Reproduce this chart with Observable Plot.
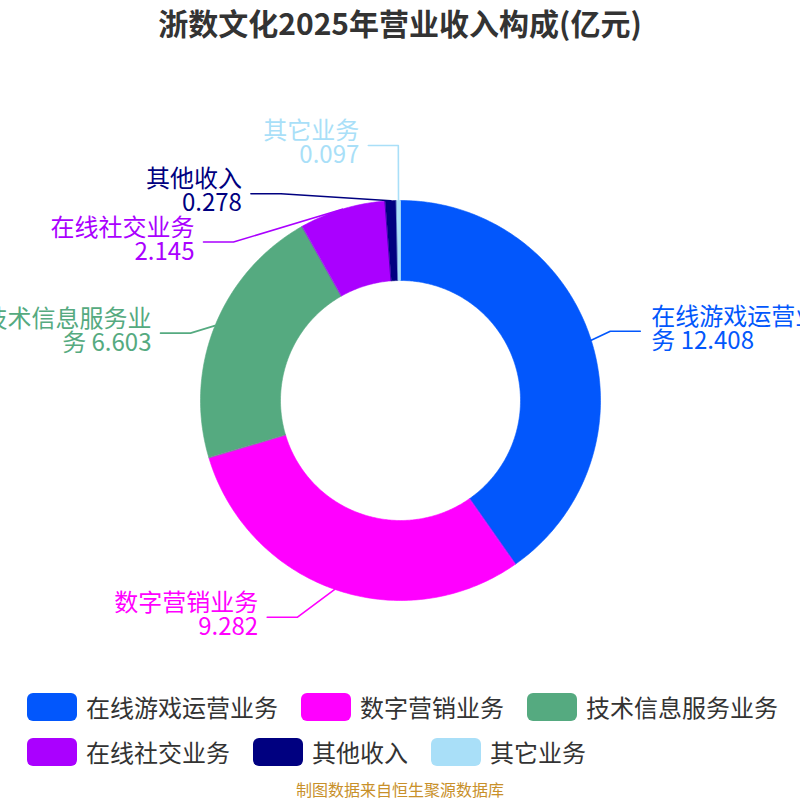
<!DOCTYPE html>
<html><head><meta charset="utf-8">
<script src="https://cdn.jsdelivr.net/npm/d3@7"></script>
<script src="https://cdn.jsdelivr.net/npm/@observablehq/plot@0.6"></script>
<style>
body{margin:0;background:#fff;width:800px;height:800px;overflow:hidden;font-family:"Noto Sans CJK SC","Noto Sans",sans-serif;}
#title{height:50px;line-height:44px;text-align:center;font-size:30px;font-weight:bold;color:#333;}
#chart{height:620px;}
#legend{display:flex;flex-wrap:wrap;width:770px;padding-left:27px;column-gap:23px;row-gap:17px;margin-top:23px;}
.item{display:flex;align-items:center;font-size:24px;color:#333;line-height:28px;}
.sw{width:50px;height:28px;border-radius:6px;margin-right:9px;}
#caption{position:absolute;top:777px;width:800px;text-align:center;font-size:16px;color:#c8902a;}
</style></head>
<body>
<div id="title">浙数文化2025年营业收入构成(亿元)</div>
<div id="chart"></div>
<div id="legend"></div>
<div id="caption">制图数据来自恒生聚源数据库</div>
<script>
const categories = ["在线游戏运营业务","数字营销业务","技术信息服务业务","在线社交业务","其他收入","其它业务"];
const values = [12.408, 9.282, 6.603, 2.145, 0.278, 0.097];
const valueLabels = ["12.408","9.282","6.603","2.145","0.278","0.097"];
const colors = ["#0257fc","#ff00ff","#55aa80","#aa00ff","#000080","#a9dff8"];

// label layout nudges (px) for the elbow of each leader line, to avoid overlaps
const labelShift = [[0,-3],[-31,9],[-6,15],[-103,52],[-109,13],[0,-35]];

const R1 = 0.6, R2 = 1.0, PX = 200; // radii in chart units; 1 unit = 200px
const pie = d3.pie().sort(null).value(d => d)(values);

const polar = (a, r) => ({x: r * Math.sin(a), y: r * Math.cos(a)});

const marks = [];
pie.forEach((p, i) => {
  const n = Math.max(4, Math.ceil((p.endAngle - p.startAngle) * 80));
  const pts = [];
  for (let k = 0; k <= n; k++) pts.push(polar(p.startAngle + (p.endAngle - p.startAngle) * k / n, R2));
  for (let k = n; k >= 0; k--) pts.push(polar(p.startAngle + (p.endAngle - p.startAngle) * k / n, R1));
  marks.push(Plot.line(pts, {x: "x", y: "y", fill: colors[i], stroke: colors[i], strokeWidth: 0.6, curve: "linear-closed"}));
});

const leaders = [];
const labels = [];
pie.forEach((p, i) => {
  const mid = (p.startAngle + p.endAngle) / 2;
  const right = mid < Math.PI;
  const s = polar(mid, R2);
  const e0 = polar(mid, 1.1);
  const e = {x: e0.x + labelShift[i][0] / PX, y: e0.y - labelShift[i][1] / PX};
  const end = {x: e.x + (right ? 30 : -30) / PX, y: e.y};
  [s, e, end].forEach(q => leaders.push({...q, id: i}));
  const name = categories[i];
  let text;
  if (name.length <= 6) text = name + "\n" + valueLabels[i];
  else { const full = name + " " + valueLabels[i]; text = full.slice(0, 7) + "\n" + full.slice(7); }
  labels.push({x: end.x, y: end.y, text, right, color: colors[i]});
});

marks.push(Plot.line(leaders, {x: "x", y: "y", z: "id", stroke: d => colors[d.id], strokeWidth: 1.6, curve: "linear"}));
marks.push(Plot.text(labels.filter(d => d.right), {x: "x", y: "y", text: "text", fill: "color", textAnchor: "start", dx: 11, dy: -2, fontSize: 24, lineHeight: 1.0}));
marks.push(Plot.text(labels.filter(d => !d.right), {x: "x", y: "y", text: "text", fill: "color", textAnchor: "end", dx: -9, dy: -2, fontSize: 24, lineHeight: 1.0}));

const chart = Plot.plot({
  width: 800, height: 620, margin: 0,
  x: {domain: [-2, 2], axis: null},
  y: {domain: [-1.35, 1.75], axis: null},
  color: {type: "identity"},
  style: {fontFamily: '"Noto Sans CJK SC","Noto Sans",sans-serif', background: "#fff", overflow: "hidden"},
  marks
});
document.getElementById("chart").appendChild(chart);

const lg = document.getElementById("legend");
categories.forEach((c, i) => {
  const it = document.createElement("div"); it.className = "item";
  const sw = document.createElement("div"); sw.className = "sw"; sw.style.background = colors[i];
  const t = document.createElement("span"); t.textContent = c;
  it.appendChild(sw); it.appendChild(t); lg.appendChild(it);
});
</script>
</body></html>
